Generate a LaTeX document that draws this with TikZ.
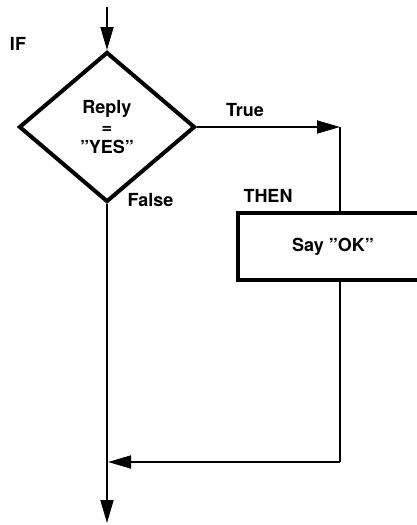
\documentclass[tikz,border=0pt]{standalone}
\usepackage{fontspec}
\setmainfont{TeX Gyre Heros}
\usetikzlibrary{shapes.geometric,arrows.meta}

\begin{document}
\begin{tikzpicture}[x=1pt,y=-1pt]
        \tikzset{
            flowline/.style={black, line width=1.8pt, >={Triangle[length=23pt,width=13pt]}},
            decision/.style={draw, black, diamond, line width=4pt, minimum width=176pt, minimum height=150pt, inner sep=0pt, align=center},
            process/.style={draw, black, rectangle, line width=4pt, minimum width=190pt, minimum height=67pt},
            caption/.style={black, font=\fontsize{18}{20}\selectfont\bfseries}
        }
        \useasboundingbox (0,0) rectangle (417,525);

        % blocks
        \node (cond) [decision, caption] at (107,127) {Reply\\=\\”YES”};
        \node (act) [process, caption] at (333,246.5) {Say ”OK”};

        % labels
        \node (iflabel) [caption] at (18,44) {IF};
        \node (truelabel) [caption] at (245,110) {True};
        \node (falselabel) [caption, anchor=west] at (124,200) {False};
        \node (thenlabel) [caption] at (268,196) {THEN};

        % corners of the flow lines
        \coordinate (entry) at (107,7);
        \coordinate (truecorner) at (340,124);
        \coordinate (loopcorner) at (340,462);
        \coordinate (join) at (108,462);
        \coordinate (exit) at (107,523);

        % flow lines
        \draw [flowline, ->] (entry) -- (cond.north);
        \draw [flowline, ->] (cond.east) -- (cond.east -| truecorner);
        \draw [flowline] (cond.east -| truecorner) -- (truecorner |- act.north);
        \draw [flowline] (act.south -| truecorner) -- (loopcorner);
        \draw [flowline, ->] (loopcorner) -- (join);
        \draw [flowline, ->] (cond.south) -- (exit);
\end{tikzpicture}
\end{document}
